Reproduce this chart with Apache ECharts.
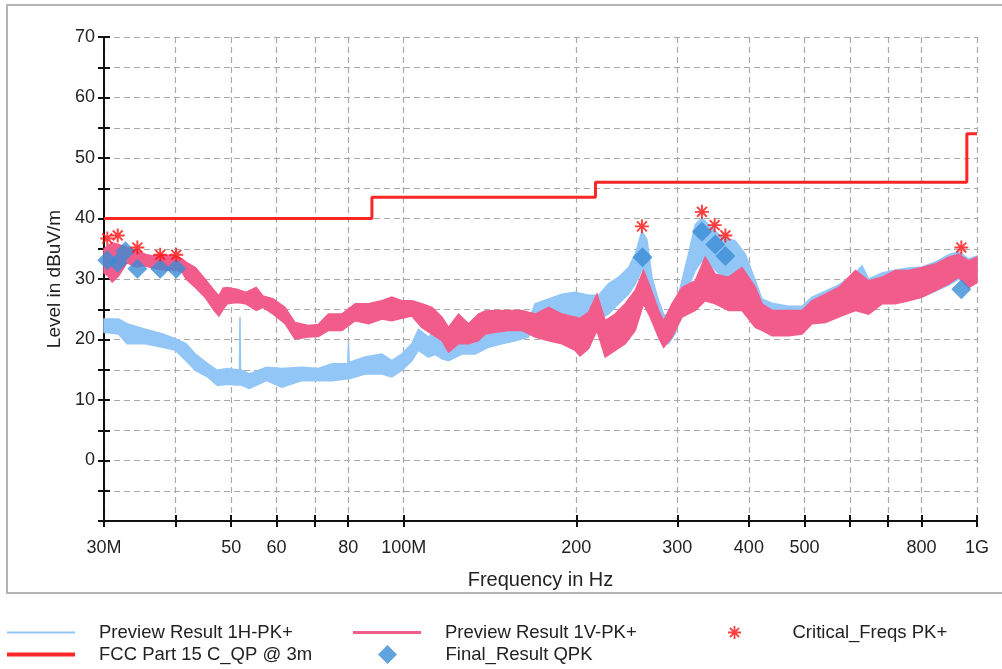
<!DOCTYPE html>
<html>
<head>
<meta charset="utf-8">
<title>Radiated emission 30 MHz - 1 GHz</title>
<script src="https://cdn.jsdelivr.net/npm/echarts@6/dist/echarts.min.js"></script>
<style>
  html, body { margin: 0; padding: 0; background: #fff; }
  #chart { width: 1002px; height: 669px; }
</style>
</head>
<body>
<div id="chart"></div>
<script>
// 频率单位 MHz，电平单位 dBuV/m

// Preview Result 1H-PK+（浅蓝噪声带：下沿 / 上沿）
const blueFreq = [30.0, 31.8, 32.9, 35.4, 38.0, 40.0, 41.7, 43.3, 45.5, 47.3, 49.2, 51.1, 51.7, 51.8, 51.9, 53.8, 57.6, 61.3, 66.4, 71.0, 74.9, 79.9, 80.1, 80.3, 85.6, 91.6, 95.3, 99.2, 103.3, 106.1, 110.4, 113.5, 116.6, 119.7, 126.3, 133.2, 140.5, 148.3, 156.4, 165.0, 169.5, 179.0, 188.8, 199.1, 210.1, 218.7, 227.6, 237.0, 246.7, 253.4, 260.3, 265.6, 271.0, 278.3, 284.0, 289.7, 297.6, 305.7, 313.8, 322.5, 331.3, 340.1, 359.1, 378.7, 394.3, 410.5, 421.6, 439.0, 469.3, 495.3, 515.5, 543.9, 573.6, 613.6, 630.0, 647.2, 683.0, 720.6, 760.0, 802.0, 846.0, 892.4, 929.0, 967.3, 1000];
const blueLow = [21.2, 20.9, 19.3, 19.3, 18.7, 18.2, 16.5, 14.9, 13.8, 12.4, 12.6, 12.5, 12.5, 12.5, 12.5, 11.9, 13.2, 12.1, 13.2, 13.2, 13.2, 13.5, 13.5, 13.5, 14.3, 14.3, 13.8, 14.9, 16.5, 18.2, 17.1, 17.5, 16.8, 16.5, 17.6, 17.6, 18.7, 19.3, 19.8, 20.4, 22.6, 23.7, 24.2, 23.7, 23.7, 23.4, 24.2, 25.9, 27.5, 29.2, 31.4, 29.7, 25.9, 22.6, 19.3, 19.3, 21.0, 24.8, 28.6, 31.4, 33.0, 32.7, 30.3, 29.7, 28.1, 24.8, 22.0, 21.0, 21.0, 21.5, 22.8, 23.0, 24.0, 25.0, 25.0, 24.5, 26.0, 26.0, 26.5, 27.0, 28.0, 29.0, 30.0, 28.8, 29.5];
const blueHigh = [23.4, 23.4, 22.6, 21.7, 20.9, 20.1, 19.3, 17.6, 16.0, 14.9, 15.2, 15.0, 15.0, 23.7, 15.0, 14.3, 15.4, 15.2, 15.4, 15.2, 16.0, 16.0, 19.5, 16.2, 17.1, 17.6, 16.5, 17.6, 19.3, 21.7, 20.4, 21.5, 19.5, 19.3, 20.4, 20.4, 21.5, 22.0, 22.6, 23.0, 25.9, 26.7, 27.5, 27.8, 27.3, 27.3, 29.2, 30.3, 31.9, 34.1, 37.9, 36.5, 30.3, 26.4, 24.2, 23.7, 25.3, 29.7, 34.1, 39.0, 40.1, 39.0, 36.9, 36.3, 34.1, 29.7, 26.7, 26.0, 25.5, 25.5, 27.0, 28.0, 29.0, 31.0, 32.2, 30.0, 31.0, 31.5, 31.8, 32.0, 32.8, 34.0, 34.5, 33.3, 33.8];

// Preview Result 1V-PK+（粉色噪声带）
const pinkFreq = [30.0, 30.5, 31.0, 31.8, 32.9, 34.0, 35.4, 36.5, 38.0, 40.0, 41.1, 41.7, 43.3, 45.0, 46.7, 47.6, 48.4, 49.2, 51.1, 53.0, 55.3, 56.8, 59.2, 62.1, 64.6, 68.2, 71.0, 73.9, 78.0, 82.3, 86.8, 91.6, 95.3, 99.2, 103.3, 107.5, 112.0, 116.6, 119.7, 124.6, 129.7, 135.0, 138.7, 144.4, 152.3, 160.7, 169.5, 179.0, 188.8, 199.1, 203.0, 210.1, 217.3, 224.6, 233.8, 243.4, 253.4, 262.0, 269.2, 278.3, 284.0, 293.7, 305.7, 322.5, 335.6, 349.5, 368.7, 389.1, 410.5, 421.6, 439.0, 469.3, 495.3, 515.5, 543.9, 573.6, 613.6, 647.2, 683.0, 720.6, 760.0, 802.0, 846.0, 892.4, 929.0, 967.3, 1000];
const pinkLow = [31.0, 30.5, 29.5, 30.5, 32.7, 32.0, 32.2, 31.8, 31.5, 31.5, 31.1, 30.0, 28.6, 27.0, 24.8, 23.9, 25.0, 25.9, 26.1, 25.9, 24.8, 25.3, 24.2, 22.6, 20.1, 20.4, 20.5, 21.5, 21.5, 23.1, 22.6, 23.4, 23.1, 23.5, 23.9, 22.0, 20.9, 19.8, 17.9, 19.3, 19.3, 19.8, 20.9, 21.2, 21.5, 21.5, 20.4, 19.8, 19.3, 18.2, 17.3, 18.5, 21.5, 17.1, 18.2, 19.3, 21.5, 25.9, 23.7, 20.4, 18.7, 20.4, 23.7, 24.8, 26.4, 25.9, 24.8, 24.8, 22.0, 21.5, 20.6, 20.6, 20.9, 22.6, 22.8, 23.7, 24.8, 24.2, 25.9, 25.9, 26.4, 27.0, 28.1, 29.2, 30.3, 28.6, 29.4];
const pinkHigh = [35.0, 35.5, 36.0, 35.7, 35.2, 34.8, 34.1, 33.8, 34.0, 33.8, 33.3, 32.8, 31.9, 30.0, 28.1, 27.2, 28.5, 28.6, 28.3, 27.8, 28.6, 27.2, 26.7, 25.3, 22.8, 22.3, 22.5, 24.2, 24.2, 25.9, 25.9, 26.4, 27.0, 26.4, 26.4, 25.9, 25.3, 23.7, 22.0, 24.2, 22.6, 24.2, 24.7, 24.8, 24.8, 24.8, 24.2, 25.3, 24.2, 23.7, 23.5, 24.5, 27.5, 23.1, 24.2, 25.9, 28.1, 31.4, 28.6, 24.8, 23.1, 25.9, 28.6, 29.7, 33.6, 30.8, 30.3, 31.9, 28.6, 25.9, 24.8, 24.8, 24.8, 26.4, 27.5, 28.6, 31.4, 29.7, 30.3, 31.4, 31.4, 31.9, 32.5, 33.6, 34.1, 33.0, 33.6];

// FCC Part 15 C 限值（阶梯线）
const limitFreq = [30, 88, 88, 216, 216, 960, 960, 1000];
const limitLevel = [40, 40, 43.5, 43.5, 46, 46, 54, 54];

// Critical_Freqs PK+
const critFreq = [30.4, 31.7, 34.3, 37.6, 40.1, 260.3, 331.3, 348.6, 364.0, 939.0];
const critLevel = [36.7, 37.2, 35.2, 34.0, 34.0, 38.7, 41.1, 38.9, 37.2, 35.2];

// Final_Result QPK
const qpkFreq = [30.4, 31.7, 32.7, 34.3, 37.6, 40.1, 261.0, 331.3, 349.5, 364.0, 939.0];
const qpkLevel = [33.1, 32.7, 34.6, 31.7, 31.7, 31.7, 33.6, 37.8, 35.7, 33.8, 28.3];

// 坐标轴刻度
const xTickFreq = [30, 40, 50, 60, 70, 80, 100, 200, 300, 400, 500, 600, 700, 800, 1000];
const xLabelFreq = [30, 50, 60, 80, 100, 200, 300, 400, 500, 800, 1000];
const xLabelText = ['30M', '50', '60', '80', '100M', '200', '300', '400', '500', '800', '1G'];

const FONT = '"Liberation Sans", Arial, sans-serif';
const C_BLUE = '#92c6f6';
const C_PINK = '#f25c8b';
const C_LIMIT = '#ff2626';
const C_QPK = '#3a8cd6';
const C_CRIT = '#ff1010';
const STAR = 'path://M-0.9,-6.5H0.9V6.5H-0.9Z M-6.5,-0.9H6.5V0.9H-6.5Z ' +
  'M-3.96,-5.24L5.24,3.96L3.96,5.24L-5.24,-3.96Z M-5.24,3.96L3.96,-5.24L5.24,-3.96L-3.96,5.24Z M-2,-2H2V2H-2Z';
const DIAMOND = 'path://M0,-1L1,0L0,1L-1,0Z';

// x 轴按 log10(MHz) 线性绘制，等同对数坐标
const lg = f => Math.log10(f);
const pairs = (freq, vals) => freq.map((f, i) => [lg(f), vals[i]]);

function xLabel(v) {
  const idx = xLabelFreq.indexOf(Math.round(Math.pow(10, v)));
  return idx >= 0 ? xLabelText[idx] : '';
}

// 噪声带：上沿 + 反向下沿 组成一个多边形
function bandSeries(name, freq, low, high, color) {
  return {
    name: name, type: 'custom', silent: true,
    data: freq.map((f, i) => [lg(f), low[i], high[i]]),
    encode: { x: 0, y: [1, 2] },
    itemStyle: { color: color },
    renderItem: function (params, api) {
      if (params.dataIndex !== 0) return null;
      const upper = freq.map((f, i) => api.coord([lg(f), high[i]]));
      const lower = freq.map((f, i) => api.coord([lg(f), low[i]])).reverse();
      return {
        type: 'polygon',
        shape: { points: upper.concat(lower) },
        style: { fill: color, stroke: color, lineWidth: 1.5 }
      };
    }
  };
}

function legendAt(item, left, top, itemHeight) {
  return {
    data: [item], left: left, top: top, padding: 0, selectedMode: false,
    itemWidth: 68, itemHeight: itemHeight,
    textStyle: { fontFamily: FONT, fontSize: 18.5, color: '#222', padding: [0, 0, 0, 19] }
  };
}

const chart = echarts.init(document.getElementById('chart'));

const gridLine = { show: true, lineStyle: { color: '#a9a9a9', type: [6, 4], width: 1.2 } };
const tickStyle = { color: '#111', width: 2 };
const xMin = lg(30), xMax = lg(1000);

chart.setOption({
  animation: false,
  backgroundColor: '#fff',
  textStyle: { fontFamily: FONT },
  graphic: [{
    type: 'rect', silent: true, z: -1,
    shape: { x: 7, y: 5, width: 1000, height: 588 },
    style: { fill: 'none', stroke: '#b4b4b4', lineWidth: 2 }
  }],
  grid: { left: 104, right: 25, top: 37, bottom: 148, containLabel: false },
  xAxis: [{
    type: 'value', min: xMin, max: xMax,
    name: 'Frequency in Hz', nameLocation: 'middle', nameGap: 49,
    nameTextStyle: { fontFamily: FONT, fontSize: 20, color: '#222' },
    axisLine: { onZero: false, lineStyle: tickStyle },
    axisTick: { length: 6, customValues: xTickFreq.map(lg), lineStyle: tickStyle },
    axisLabel: { customValues: xLabelFreq.map(lg), formatter: xLabel, margin: 18,
      fontFamily: FONT, fontSize: 18, color: '#222' },
    splitLine: gridLine
  }, {
    type: 'value', min: xMin, max: xMax, position: 'bottom',
    axisLine: { show: false, onZero: false },
    axisTick: { inside: true, length: 6, customValues: xTickFreq.map(lg), lineStyle: tickStyle },
    axisLabel: { show: false }, splitLine: { show: false }
  }],
  yAxis: [{
    type: 'value', min: -10, max: 70, interval: 5,
    name: 'Level in dBuV/m', nameLocation: 'middle', nameGap: 40,
    nameTextStyle: { fontFamily: FONT, fontSize: 19, color: '#222' },
    axisLine: { show: true, onZero: false, lineStyle: tickStyle },
    axisTick: { show: true, length: 6, lineStyle: tickStyle },
    axisLabel: { formatter: v => (v >= 0 && v % 10 === 0) ? String(v) : '', margin: 9,
      fontFamily: FONT, fontSize: 18, color: '#222' },
    splitLine: gridLine
  }, {
    type: 'value', min: -10, max: 70, interval: 5, position: 'left',
    axisLine: { show: false, onZero: false },
    axisTick: { show: true, inside: true, length: 6, lineStyle: tickStyle },
    axisLabel: { show: false }, splitLine: { show: false }
  }],
  legend: [
    legendAt({ name: 'Preview Result 1H-PK+', icon: 'path://M0,0H68V2H0Z', itemStyle: { color: C_BLUE } }, 7, 623, 2),
    legendAt({ name: 'Preview Result 1V-PK+', icon: 'path://M0,0H68V3H0Z', itemStyle: { color: C_PINK } }, 353, 623, 3),
    legendAt({ name: 'Critical_Freqs PK+', icon: STAR, itemStyle: { color: C_CRIT } }, 728, 623, 13),
    legendAt({ name: 'FCC Part 15 C_QP @ 3m', icon: 'path://M0,0H68V4H0Z', itemStyle: { color: C_LIMIT } }, 7, 645, 4),
    legendAt({ name: 'Final_Result QPK', icon: DIAMOND, itemStyle: { color: C_QPK } }, 378, 645, 19)
  ],
  series: [
    bandSeries('Preview Result 1H-PK+', blueFreq, blueLow, blueHigh, C_BLUE),
    bandSeries('Preview Result 1V-PK+', pinkFreq, pinkLow, pinkHigh, C_PINK),
    { name: 'FCC Part 15 C_QP @ 3m', type: 'line', symbol: 'none', silent: true,
      data: pairs(limitFreq, limitLevel), lineStyle: { color: C_LIMIT, width: 3 }, itemStyle: { color: C_LIMIT } },
    { name: 'Final_Result QPK', type: 'scatter', symbol: DIAMOND, symbolSize: 20,
      data: pairs(qpkFreq, qpkLevel), itemStyle: { color: C_QPK } },
    { name: 'Critical_Freqs PK+', type: 'scatter', symbol: STAR, symbolSize: 14,
      data: pairs(critFreq, critLevel), itemStyle: { color: C_CRIT } }
  ]
});
</script>
</body>
</html>
